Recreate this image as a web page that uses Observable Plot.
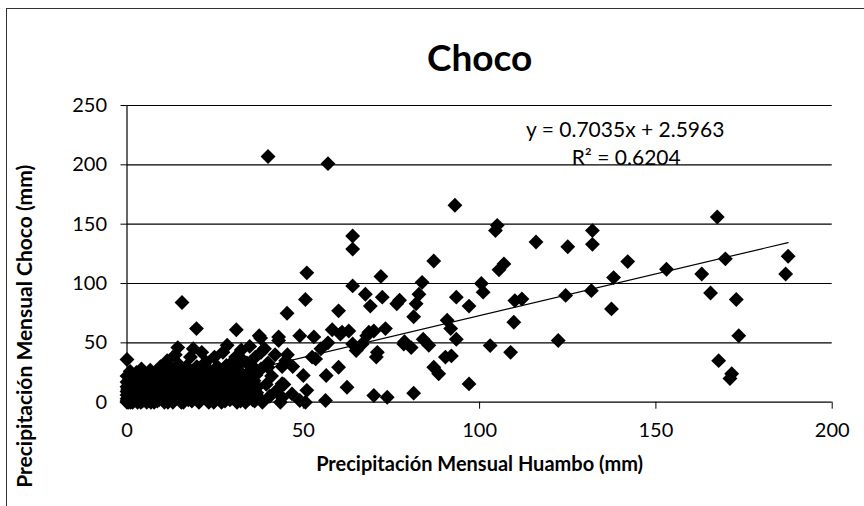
<!DOCTYPE html>
<html>
<head>
<meta charset="utf-8">
<script src="https://cdn.jsdelivr.net/npm/d3@7"></script>
<script src="https://cdn.jsdelivr.net/npm/@observablehq/plot@0.6"></script>
<style>
  body { margin: 0; background: #fff; }
  #wrap { position: relative; width: 864px; height: 506px; overflow: hidden; }
  #wrap svg { position: absolute; left: 0; top: 0; }
  #border { position: absolute; left: 6px; top: 8px; width: 870px; height: 510px;
            border-left: 1px solid #333; border-top: 1px solid #333; pointer-events: none; }
</style>
</head>
<body>
<div id="wrap"></div>
<script>
// Monthly precipitation, Huambo (x) vs Choco (y), mm
const huambo = [
  0,0,0,0,0,0,0,0,0,0.4,
  0.8,1.1,1.3,1.6,1.9,2.2,2.4,2.7,3.0,3.2,
  3.5,3.8,4.1,4.4,4.7,5.0,5.3,5.6,6.0,6.3,
  6.6,7.0,7.3,7.7,8.0,8.4,8.8,9.1,9.5,9.9,
  10.3,10.6,11.0,11.4,11.8,12.2,12.6,13.0,13.3,13.7,
  14.1,14.4,14.8,15.2,15.6,16.0,16.4,16.8,17.2,17.6,
  18.0,18.4,18.8,19.2,19.6,20.0,20.4,20.8,21.2,21.6,
  22.0,22.4,22.8,23.2,23.6,24.0,24.4,24.8,25.2,25.6,
  26.0,26.4,26.8,27.2,27.6,28.0,28.4,28.8,29.2,29.6,
  30.0,30.4,30.8,31.2,31.6,32.0,32.4,32.8,33.2,33.6,
  34.0,34.4,34.8,35.2,35.6,36.0,36.4,36.8,38.0,38.4,
  39.0,39.5,40.0,40.5,41.0,42.0,42.5,44,44.5,45,
  43.5,
  0.2,0.6,0.9,1.0,1.4,1.7,2.0,2.5,2.9,3.3,
  3.6,3.9,4.2,4.6,5.1,5.4,5.8,6.1,6.5,6.8,
  7.1,7.5,7.9,8.2,8.6,9.0,9.3,9.7,10.1,10.4,
  10.8,11.2,11.6,12.0,12.4,12.8,13.5,13.9,14.3,14.6,
  15.0,15.4,15.8,16.2,16.6,17.0,17.4,17.8,18.2,18.6,
  19.0,19.4,19.8,20.2,20.6,21.0,21.4,21.8,22.2,22.6,
  23.0,23.4,23.8,24.2,24.6,25.0,25.4,25.8,26.2,26.6,
  27.0,27.4,27.8,28.2,28.6,29.0,29.4,29.8,30.2,30.6,
  31.0,31.4,31.8,32.2,32.6,33.0,33.4,33.8,34.2,34.6,
  35.0,35.4,35.8,36.2,36.6,37.0,37.4,
  40,57,93,64,64,51,87,72,64,67.6,
  69,72.4,77.3,83.7,82.8,82,81.3,93.4,97,100.5,
  15.6,50.6,45.4,60,19.7,31,37.9,43,49,53,
  58.2,62.9,68,70,73.3,90.8,91.8,93.4,92,78.7,
  80.6,84,85.6,87,88.4,97,70.7,71,60,62.4,
  70,73.8,81.3,56.5,56.3,52.5,50,51,49,44,
  40,36.4,31.2,65,64,60.5,66.7,78.5,37.5,43,
  53.5,44,46.8,50.6,105,104.5,116,125,132,132,
  167.4,106.9,105.5,142,169.7,187.5,186.8,163,153,138,
  165.5,172.8,173.5,167.8,171.5,171,137.4,131.7,124.4,122.3,
  112,110,109.7,108.8,103,101,90.3,61,68.6,76.5,
  45.5,47,38,55,57
];
const choco = [
  0,1,3,6,9,13,17,22,36,0,
  4,11,20,0,7,2,15,25,0,9,
  4,18,28,1,12,6,22,0,15,3,
  27,9,19,0,5,13,25,2,30,8,
  18,0,12,35,4,22,28,0,9,40,
  16,46,3,24,11,0,19,30,6,14,
  38,1,45,22,9,17,0,28,42,5,
  13,34,20,0,8,25,15,38,3,30,
  11,19,0,42,7,24,48,14,2,33,
  20,9,38,0,27,15,44,5,22,0,
  33,12,47,26,2,18,38,8,28,0,
  45,15,33,5,22,40,10,30,15,35,
  0,
  11,15,26,0,8,3,18,11,5,14,
  22,0,8,17,2,10,19,6,13,0,
  23,4,16,10,1,20,6,14,24,3,
  9,17,0,7,14,19,4,25,10,32,
  18,0,6,28,13,22,2,9,26,17,
  5,13,30,8,21,2,12,25,6,16,
  28,10,3,19,0,9,22,14,4,27,
  17,10,1,31,6,20,12,26,3,15,
  30,8,20,1,11,35,16,7,24,3,
  14,31,9,1,23,13,4,
  207,201,166,140,129,109,119,106,98,91,
  81,88.5,86,101,91,83,72,88.5,81,100,
  84,86.5,75,77,62,61,54,52,56,55,
  61,60,56,60,62,69,62,53,39,51,
  46,53,48,29.5,24,15.4,38,42,29.5,12.6,
  5.6,4.2,7.6,22.5,1.4,38,22.5,10,1.4,4,
  29.5,7,2.8,43.5,49,57.5,49,49,56,55,
  36.5,15.5,7,0,149,144.6,135,131,144.6,133,
  156,116.5,111.5,118.5,120.8,123,108,108,112,105,
  92,86.5,56,35,24,20,78.6,94,90,52,
  87,85.6,67.4,42,47.7,92.7,38,59,59,83,
  40,30,42,45,50
];
const slope = 0.7035;
const intercept = 2.5963;
const rSquared = 0.6204;
const xTicks = [0, 50, 100, 150, 200];
const yTicks = [0, 50, 100, 150, 200, 250];
const titleText = "Choco";
const xLabel = "Precipitación Mensual Huambo (mm)";
const yLabel = "Precipitación Mensual Choco (mm)";

const points = huambo.map((h, i) => ({x: h, y: choco[i]}));
const xMin = d3.min(huambo), xMax = d3.max(huambo);
const trend = [xMin, xMax].map(x => ({x, y: slope * x + intercept}));

const chart = Plot.plot({
  width: 864,
  height: 506,
  marginLeft: 126.5,
  marginRight: 32.3,
  marginTop: 105,
  marginBottom: 104.3,
  style: {fontFamily: "Lato, 'Open Sans', sans-serif", fontSize: "20px", color: "#000", background: "transparent"},
  x: {domain: [0, 200], label: null},
  y: {domain: [0, 250], label: null},
  marks: [
    Plot.gridY(yTicks, {stroke: "#000", strokeOpacity: 1, strokeWidth: 1.2}),
    Plot.ruleX([0], {stroke: "#000", strokeWidth: 1.2}),
    Plot.axisY(yTicks, {tickSize: 6, tickPadding: 14, fontSize: 20, stroke: "#000", label: null}),
    Plot.axisX(xTicks, {tickSize: 7, tickPadding: 14, fontSize: 20, stroke: "#000", label: null}),
    Plot.dot(points, {x: "x", y: "y", symbol: "diamond2", r: 6.7, fill: "#000", stroke: "none"}),
    Plot.line(trend, {x: "x", y: "y", stroke: "#000", strokeWidth: 1.2}),
    Plot.text([titleText], {frameAnchor: "top", dy: -61, fontSize: 37, fontWeight: "bold"}),
    Plot.text([`y = ${slope}x + ${intercept}`], {frameAnchor: "top-right", dx: -207, dy: 17, textAnchor: "middle", fontSize: 21}),
    Plot.text([`R² = ${rSquared}`], {frameAnchor: "top-right", dx: -206, dy: 45, textAnchor: "middle", fontSize: 21}),
    Plot.text([xLabel], {frameAnchor: "bottom", dy: 69, fontSize: 20, fontWeight: "bold"}),
    Plot.text([yLabel], {frameAnchor: "left", rotate: -90, dx: -102, dy: 234, fontSize: 21, fontWeight: "bold"})
  ]
});
const wrap = document.getElementById("wrap");
wrap.appendChild(chart);
const border = document.createElement("div");
border.id = "border";
wrap.appendChild(border);
</script>
</body>
</html>
